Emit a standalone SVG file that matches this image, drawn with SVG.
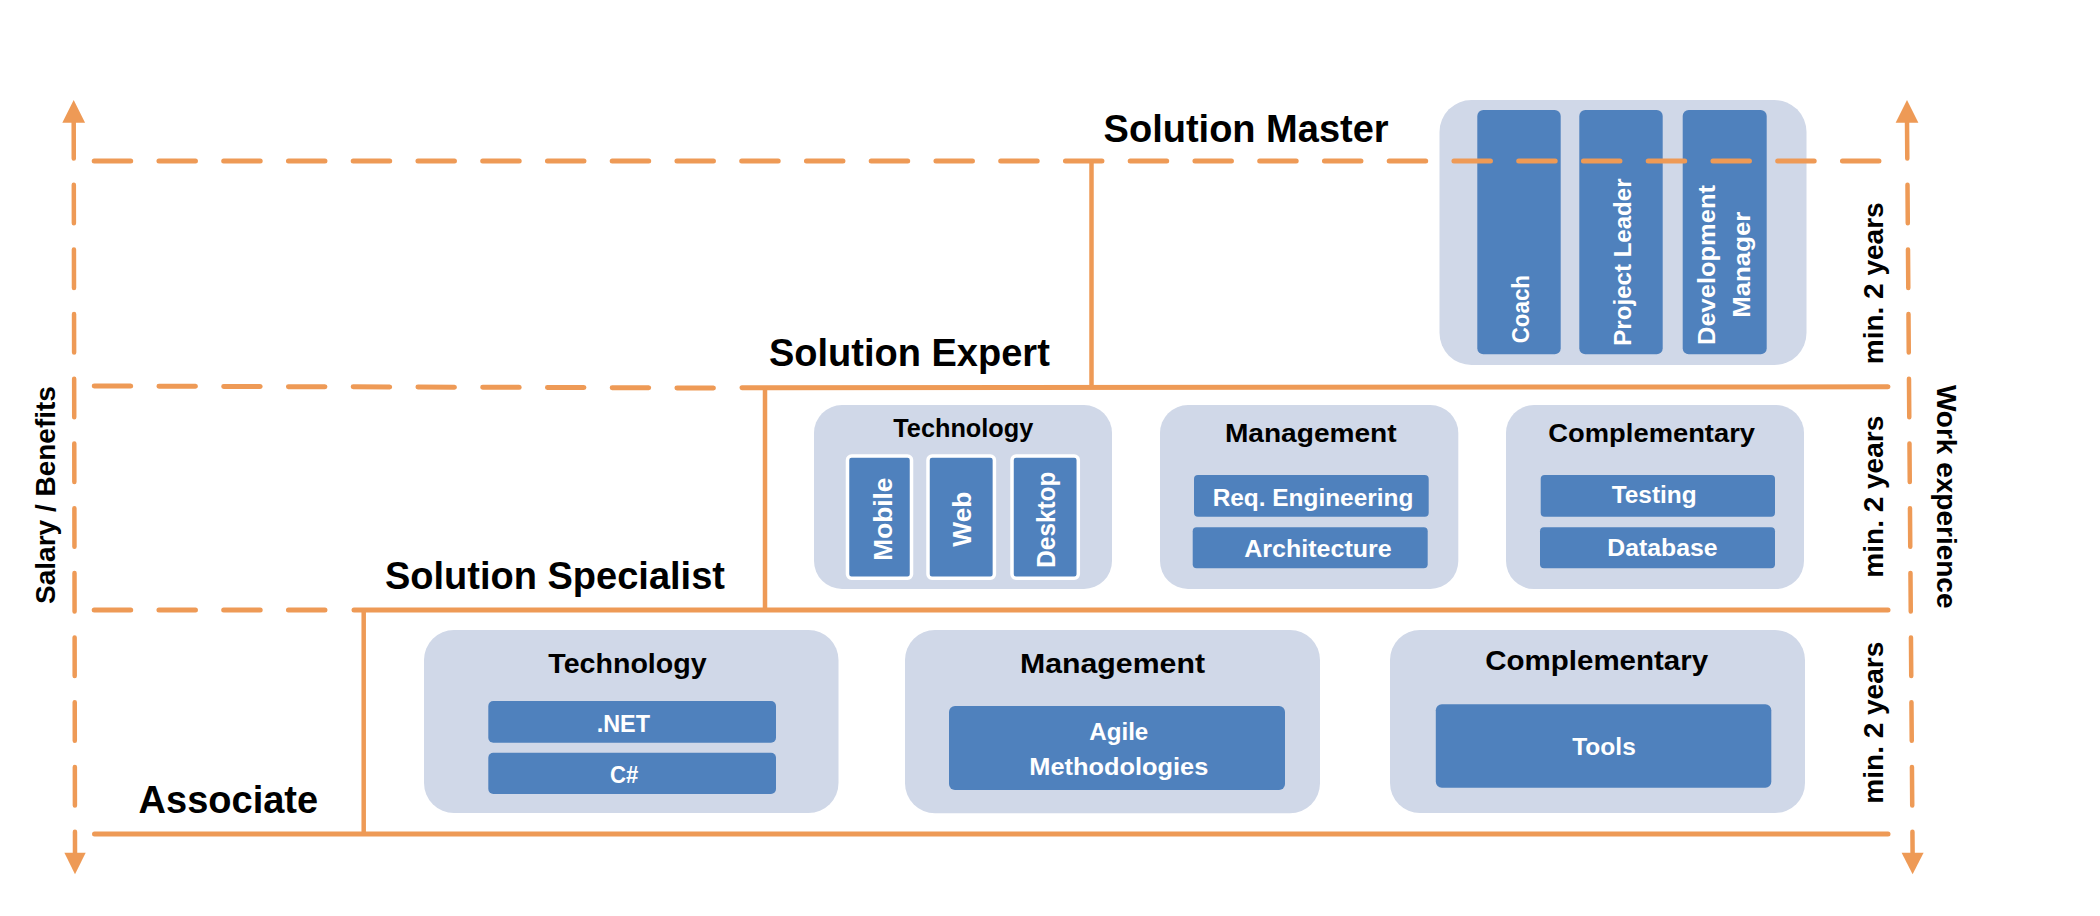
<svg xmlns="http://www.w3.org/2000/svg" width="2100" height="916" viewBox="0 0 2100 916">
<style>
.bg{fill:#ffffff}
.panel{fill:#D0D8E8}
.box{fill:#4F81BD}
.boxw{fill:#4F81BD;stroke:#ffffff;stroke-width:3.5}
.axis{stroke:#EE9A56;stroke-width:4.5;fill:none;stroke-dasharray:38.5 26.2;stroke-linecap:round}
.dash{stroke:#EE9A56;stroke-width:5;fill:none;stroke-dasharray:36.5 28.25;stroke-linecap:round}
.solid{stroke:#EE9A56;stroke-width:5;fill:none;stroke-linecap:round}
.vsolid{stroke:#EE9A56;stroke-width:4.5;fill:none}
.head{fill:#EE9A56}
.title{font-family:"Liberation Sans",Arial,sans-serif;font-weight:bold;font-size:38px;fill:#000}
.hdr{font-family:"Liberation Sans",Arial,sans-serif;font-weight:bold;fill:#000;text-anchor:middle}
.lbl{font-family:"Liberation Sans",Arial,sans-serif;font-weight:bold;fill:#fff;text-anchor:middle}
.side{font-family:"Liberation Sans",Arial,sans-serif;font-weight:bold;font-size:28px;fill:#000;text-anchor:middle}
</style>
<rect class="bg" x="0" y="0" width="2100" height="916"/>

<g id="master">
<rect class="panel" x="1439.5" y="100" width="367" height="265" rx="32"/>
<rect class="box" x="1477.3" y="110" width="83.4" height="244.3" rx="6"/>
<rect class="box" x="1579.3" y="110" width="83.4" height="244.3" rx="6"/>
<rect class="box" x="1682.7" y="110" width="84" height="244.3" rx="6"/>
<text class="lbl" style="text-anchor:start" font-size="23" transform="translate(1529,343.3) rotate(-90)" textLength="68.3" lengthAdjust="spacingAndGlyphs">Coach</text>
<text class="lbl" style="text-anchor:start" font-size="23.5" transform="translate(1631,345.7) rotate(-90)" textLength="167.3" lengthAdjust="spacingAndGlyphs">Project Leader</text>
<text class="lbl" font-size="23.5" transform="translate(1715,265) rotate(-90)" textLength="160" lengthAdjust="spacingAndGlyphs">Development</text>
<text class="lbl" font-size="23.5" transform="translate(1750,264.7) rotate(-90)" textLength="106" lengthAdjust="spacingAndGlyphs">Manager</text>
</g>

<g id="expert-technology">
<rect class="panel" x="814" y="405" width="298" height="184" rx="28"/>
<text class="hdr" x="963.3" y="437.3" font-size="25" textLength="140" lengthAdjust="spacingAndGlyphs">Technology</text>
<rect class="boxw" x="847.5" y="456" width="64" height="122.3" rx="4"/>
<rect class="boxw" x="928" y="456" width="66.4" height="122.3" rx="4"/>
<rect class="boxw" x="1012" y="456" width="66.3" height="122.3" rx="4"/>
<text class="lbl" font-size="26" transform="translate(891.5,519.2) rotate(-90)" textLength="83" lengthAdjust="spacingAndGlyphs">Mobile</text>
<text class="lbl" font-size="26" transform="translate(971.3,519.2) rotate(-90)" textLength="55" lengthAdjust="spacingAndGlyphs">Web</text>
<text class="lbl" font-size="26" transform="translate(1055,519.7) rotate(-90)" textLength="96" lengthAdjust="spacingAndGlyphs">Desktop</text>
</g>

<g id="expert-management">
<rect class="panel" x="1160" y="405" width="298.3" height="184" rx="28"/>
<text class="hdr" x="1310.8" y="441.7" font-size="25.5" textLength="171.7" lengthAdjust="spacingAndGlyphs">Management</text>
<rect class="box" x="1194" y="475" width="234.7" height="41.7" rx="4"/>
<rect class="box" x="1192.7" y="527.3" width="235" height="41" rx="4"/>
<text class="lbl" x="1313" y="505.7" font-size="23" textLength="200.7" lengthAdjust="spacingAndGlyphs">Req. Engineering</text>
<text class="lbl" x="1318" y="556.7" font-size="23" textLength="147.4" lengthAdjust="spacingAndGlyphs">Architecture</text>
</g>

<g id="expert-complementary">
<rect class="panel" x="1506" y="405" width="298" height="184" rx="28"/>
<text class="hdr" x="1651.7" y="441.7" font-size="25.5" textLength="206.7" lengthAdjust="spacingAndGlyphs">Complementary</text>
<rect class="box" x="1540.7" y="475" width="234.3" height="41.7" rx="4"/>
<rect class="box" x="1540" y="527.3" width="235" height="41" rx="4"/>
<text class="lbl" x="1654.2" y="503.3" font-size="23" textLength="85" lengthAdjust="spacingAndGlyphs">Testing</text>
<text class="lbl" x="1662.5" y="556" font-size="23" textLength="110.3" lengthAdjust="spacingAndGlyphs">Database</text>
</g>

<g id="specialist-technology">
<rect class="panel" x="424" y="630" width="414.5" height="183" rx="30"/>
<text class="hdr" x="627.5" y="673.3" font-size="28.5" textLength="158.3" lengthAdjust="spacingAndGlyphs">Technology</text>
<rect class="box" x="488.3" y="701" width="287.7" height="41.7" rx="5"/>
<rect class="box" x="488.3" y="752.7" width="287.7" height="41.3" rx="5"/>
<text class="lbl" x="623.3" y="731.7" font-size="23" textLength="53.3" lengthAdjust="spacingAndGlyphs">.NET</text>
<text class="lbl" x="624.2" y="783.3" font-size="23" textLength="28.3" lengthAdjust="spacingAndGlyphs">C#</text>
</g>

<g id="specialist-management">
<rect class="panel" x="905" y="630" width="415" height="183.3" rx="30"/>
<text class="hdr" x="1112.5" y="672.7" font-size="28.5" textLength="185" lengthAdjust="spacingAndGlyphs">Management</text>
<rect class="box" x="949" y="706" width="336" height="84" rx="6"/>
<text class="lbl" x="1118.8" y="740" font-size="24.5" textLength="59" lengthAdjust="spacingAndGlyphs">Agile</text>
<text class="lbl" x="1118.8" y="775" font-size="24.5" textLength="179" lengthAdjust="spacingAndGlyphs">Methodologies</text>
</g>

<g id="specialist-complementary">
<rect class="panel" x="1390" y="630" width="415" height="183" rx="30"/>
<text class="hdr" x="1596.7" y="669.5" font-size="28.5" textLength="223" lengthAdjust="spacingAndGlyphs">Complementary</text>
<rect class="box" x="1435.8" y="704.3" width="335.5" height="83.4" rx="6"/>
<text class="lbl" x="1604" y="755" font-size="24" textLength="63.6" lengthAdjust="spacingAndGlyphs">Tools</text>
</g>

<g id="connectors">
<line class="axis" x1="73.7" y1="120" x2="75" y2="853"/>
<polygon class="head" points="73.7,100 62.3,122.7 85.1,122.7"/>
<polygon class="head" points="75,874.3 64.4,852.7 85.7,852.7"/>
<line class="axis" x1="1907" y1="120" x2="1912.6" y2="853"/>
<polygon class="head" points="1907,100 1895.6,122.7 1918.4,122.7"/>
<polygon class="head" points="1912.6,874.3 1901.6,852.7 1923.6,852.7"/>
<line class="dash" x1="94.2" y1="161" x2="1880" y2="161"/>
<line class="dash" x1="94.2" y1="386" x2="714" y2="388"/>
<line class="solid" x1="742" y1="387.8" x2="1888" y2="386.8"/>
<line class="dash" x1="94.2" y1="610" x2="330" y2="610"/>
<line class="solid" x1="354" y1="610" x2="1888" y2="610"/>
<line class="solid" x1="94.5" y1="834" x2="1888" y2="834"/>
<line class="vsolid" x1="1091.5" y1="161" x2="1091.5" y2="387"/>
<line class="vsolid" x1="765" y1="387.5" x2="765" y2="610"/>
<line class="vsolid" x1="363.7" y1="610" x2="363.7" y2="834"/>
</g>

<g id="levels">
<text class="title" x="1103.6" y="141.7">Solution Master</text>
<text class="title" x="769" y="365.7">Solution Expert</text>
<text class="title" x="385" y="589">Solution Specialist</text>
<text class="title" x="138.6" y="813.3">Associate</text>
</g>

<g id="axis-labels">
<text class="side" transform="translate(55,495) rotate(-90)">Salary / Benefits</text>
<text class="side" transform="translate(1936.5,496.7) rotate(90)">Work experience</text>
<text class="side" transform="translate(1883.3,283.3) rotate(-90)">min. 2 years</text>
<text class="side" transform="translate(1883.3,496.7) rotate(-90)">min. 2 years</text>
<text class="side" transform="translate(1883.3,722.7) rotate(-90)">min. 2 years</text>
</g>
</svg>
